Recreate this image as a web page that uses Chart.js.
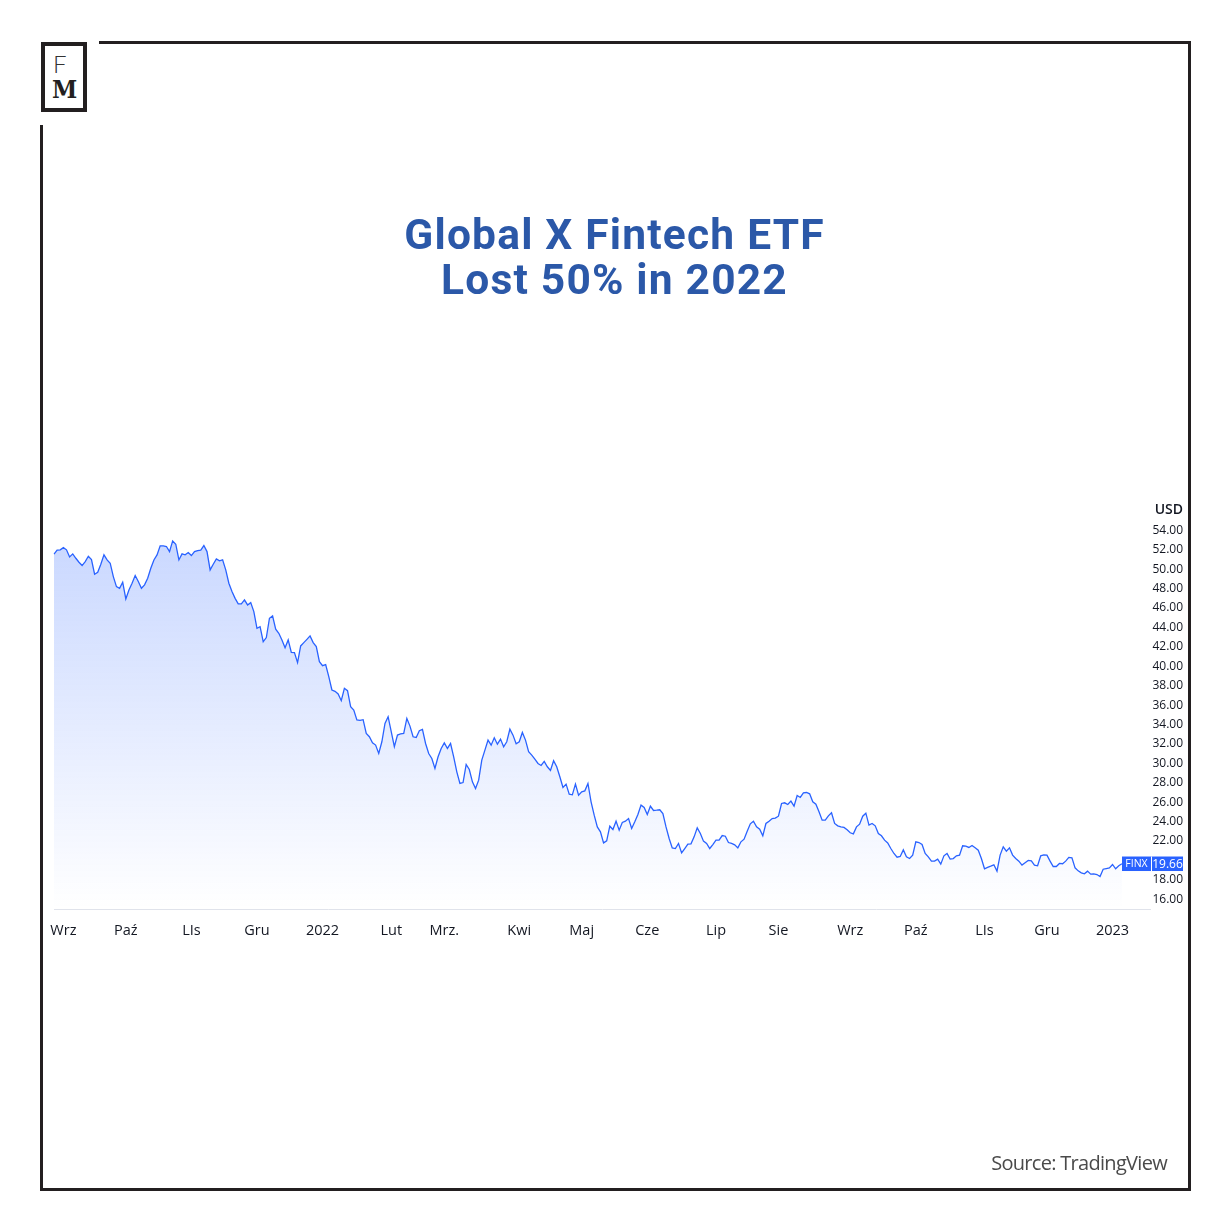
<!DOCTYPE html>
<html lang="en">
<head>
<meta charset="utf-8">
<title>Global X Fintech ETF</title>
<script src="https://cdn.jsdelivr.net/npm/chart.js@4"></script>
<style>
html,body{margin:0;padding:0;background:#fff;width:1229px;height:1230px;overflow:hidden}
#c{position:absolute;left:0;top:0}
.b{position:absolute;background:#231f20}
.t{position:absolute;white-space:nowrap}
#title{left:0;width:1229px;top:212px;text-align:center;color:#2b58a8;font:700 42.5px/45px Roboto,sans-serif;letter-spacing:1.2px}
#usd{right:46px;top:500px;font:600 14px/17px "Open Sans",sans-serif;color:#131722}
#src{right:62px;top:1150px;font:400 20px/26px "Open Sans",sans-serif;color:#4a4a4a;letter-spacing:-.7px}
#logo{position:absolute;left:41px;top:42px;width:38px;height:62px;border:4px solid #231f20;background:#fff}
#lf{left:53px;top:50px;font:300 24px/28px Lato,sans-serif;color:#333}
#lm{left:52px;top:76px;font:700 24px/28px "DejaVu Serif",serif;color:#231f20;transform:scaleX(.95);transform-origin:left}
</style>
</head>
<body>
<canvas id="c" width="1229" height="1230"></canvas>
<div class="b" style="left:99px;top:41px;width:1092px;height:3px"></div>
<div class="b" style="left:1188px;top:41px;width:3px;height:1150px"></div>
<div class="b" style="left:40px;top:1188px;width:1151px;height:3px"></div>
<div class="b" style="left:40px;top:125px;width:3px;height:1066px"></div>
<div id="logo"></div>
<div class="t" id="lf">F</div>
<div class="t" id="lm">M</div>
<div class="t" id="title">Global X Fintech ETF<br>Lost 50% in 2022</div>
<div class="t" id="usd">USD</div>
<div class="t" id="src">Source: TradingView</div>
<script>
const prices2021 = [
51.55,51.96,52.0,52.23,52.0,51.27,51.58,51.13,50.72,50.38,50.79,51.34,51.0,49.49,49.69,50.52,51.48,50.96,50.62,49.24,
48.21,48.04,48.66,46.94,47.87,48.56,49.35,48.73,48.04,48.39,49.07,50.1,50.96,51.48,52.41,52.41,52.34,51.82,52.92,
52.58,50.96,51.58,51.48,51.72,51.41,51.82,51.92,51.96,52.44,51.82,49.93,50.52,51.07,50.86,50.96,49.93,48.56,
47.70,47.0,46.43,46.43,46.84,46.32,46.56,45.64,43.92,44.09,42.54,42.96,44.95,45.19,43.82,43.4,42.72,41.92,42.72,41.44,41.41,
40.38,42.1,42.44,42.78,43.13,42.44,42.03,40.48,40.07,40.17,38.94,37.56,37.42,37.15,36.46,37.73,37.49,35.84,35.5,34.47,
34.43,34.5,33.09,32.75,32.13,31.89,31.03,32.23,34.12,34.81,33.27,31.72,32.92,33.03,33.09
];
const pricesMid = [
34.63,33.84,32.74,32.67,33.36,33.5,32.05,31.02,30.51,29.48,30.68,31.54,32.12,31.54,32.05,30.68,29.13,27.93,28.03,29.89,
29.37,28.1,27.41,28.27,30.34,31.37,32.4,31.88,32.64,31.98,32.5,31.71,32.23,33.53,32.91,32.02,32.23,33.19,32.4,31.2,
30.85,30.44,29.99,29.79,30.2,29.65,29.27,30.27,29.65,28.62,27.52,27.86,26.83,26.76,27.86,26.73,
27.07,27.17,27.93,26.04,24.67,23.46,22.95,21.81,22.02,23.53,23.19,24.05,23.12,23.91,24.05,24.32,23.29,23.98,24.74,25.7,
25.46,24.74,25.59,25.15,25.18,25.22,24.84,23.46,22.26,21.3,21.23,21.75,20.78,21.23,21.68,21.71,22.43,23.36,22.78,21.99,
21.75,21.23,21.64,22.09,22.09,22.57,22.5,21.85,21.75,21.61,21.3,21.92,22.19,23.02,23.77,24.05
];
const pricesLate = [
23.46,23.22,22.54,23.81,24.05,24.32,24.36,24.56,25.87,25.94,25.77,26.11,25.6,26.69,26.49,26.97,27.0,26.87,26.04,25.8,
25.01,24.15,24.15,24.6,24.91,23.81,23.57,23.46,23.4,23.16,22.85,22.74,23.46,23.74,24.56,24.87,23.64,23.81,23.57,22.78,
22.54,22.09,21.81,21.23,20.72,20.34,20.41,21.09,20.37,20.2,20.54,21.92,21.85,21.64,20.72,20.37,
19.93,19.93,20.14,19.62,20.48,20.72,20.14,20.2,20.48,20.55,21.51,21.48,21.34,21.54,21.3,21.06,20.2,19.14,19.28,19.41,
19.55,18.9,20.55,21.41,20.96,21.3,20.55,20.2,19.93,19.52,19.76,20.0,19.96,19.52,19.45,20.48,20.58,20.55,19.93,19.38,
19.38,19.69,19.66,19.93,20.31,20.27,19.24,18.93,18.73,18.62,18.9,18.59,18.62,18.55,18.35,19.1,19.17,19.24,19.59,19.14,19.45,19.66
];
const futureGap = [null,null,null,null,null,null,null,null,null];
const monthIndex = [3,23,44,65,86,108,125,149,169,190,212,232,255,276,298,318,339];
const monthLabels = ["Wrz","Paź","LIs","Gru","2022","Lut","Mrz.","Kwi","Maj","Cze","Lip","Sie","Wrz","Paź","LIs","Gru","2023"];
const priceTicks = [54,52,50,48,46,44,42,40,38,36,34,32,30,28,26,24,22,18,16];
const symbol = "FINX";
const lastPrice = 19.66;

const values = [...prices2021, ...pricesMid, ...pricesLate, ...futureGap];
const categories = values.map((_, i) => i);

const badge = {
  id: 'badge',
  afterDatasetsDraw(chart) {
    const {ctx, scales: {y}} = chart;
    const yp = y.getPixelForValue(lastPrice);
    const x0 = 1122, x1 = 1183, h = 14.5, div = 1151;
    ctx.save();
    ctx.fillStyle = '#2962ff';
    ctx.fillRect(x0, yp - h / 2, x1 - x0, h);
    ctx.fillStyle = '#fff';
    ctx.fillRect(div, yp - h / 2, 1, h);
    ctx.textBaseline = 'middle';
    ctx.textAlign = 'center';
    ctx.font = '10.5px "Open Sans", sans-serif';
    ctx.fillText(symbol, (x0 + div) / 2, yp + .5);
    ctx.font = '12px "Open Sans", sans-serif';
    ctx.fillText(lastPrice.toFixed(2), (div + x1) / 2 + .5, yp + .5);
    ctx.restore();
  }
};

new Chart(document.getElementById('c'), {
  type: 'line',
  data: {
    labels: categories,
    datasets: [{
      data: values,
      borderColor: '#2962ff',
      borderWidth: 1.3,
      pointRadius: 0,
      tension: 0,
      fill: 'start',
      backgroundColor(ctx) {
        const a = ctx.chart.chartArea;
        if (!a) return 'rgba(41,98,255,.22)';
        const g = ctx.chart.ctx.createLinearGradient(0, a.top + 25, 0, a.bottom);
        g.addColorStop(0, 'rgba(41,98,255,.25)');
        g.addColorStop(1, 'rgba(41,98,255,0)');
        return g;
      }
    }]
  },
  options: {
    responsive: false,
    animation: false,
    devicePixelRatio: 1,
    layout: {padding: {left: 54, right: 46, top: 511, bottom: 0}},
    plugins: {legend: {display: false}, tooltip: {enabled: false}},
    scales: {
      x: {
        type: 'category',
        offset: false,
        afterFit(s) { s.height = 321; s.paddingLeft = 0; s.paddingRight = 0; },
        afterBuildTicks(s) { s.ticks = monthIndex.map(v => ({value: v})); },
        grid: {display: false, drawTicks: false},
        border: {display: true, color: '#e0e3eb', width: 1},
        ticks: {
          autoSkip: false, maxRotation: 0, minRotation: 0, padding: 13,
          color: '#131722', font: {family: '"Open Sans"', size: 14.5},
          callback(v) { return monthLabels[monthIndex.indexOf(v)]; }
        }
      },
      y: {
        position: 'right',
        min: 15, max: 56,
        afterFit(s) { s.width = 33; },
        afterBuildTicks(s) { s.ticks = priceTicks.map(v => ({value: v})); },
        grid: {display: false, drawTicks: false},
        border: {display: false},
        ticks: {
          padding: 0, crossAlign: 'far', autoSkip: false,
          color: '#131722', font: {family: '"Open Sans"', size: 12},
          callback(v) { return v.toFixed(2); }
        }
      }
    }
  },
  plugins: [badge]
});
</script>
</body>
</html>
